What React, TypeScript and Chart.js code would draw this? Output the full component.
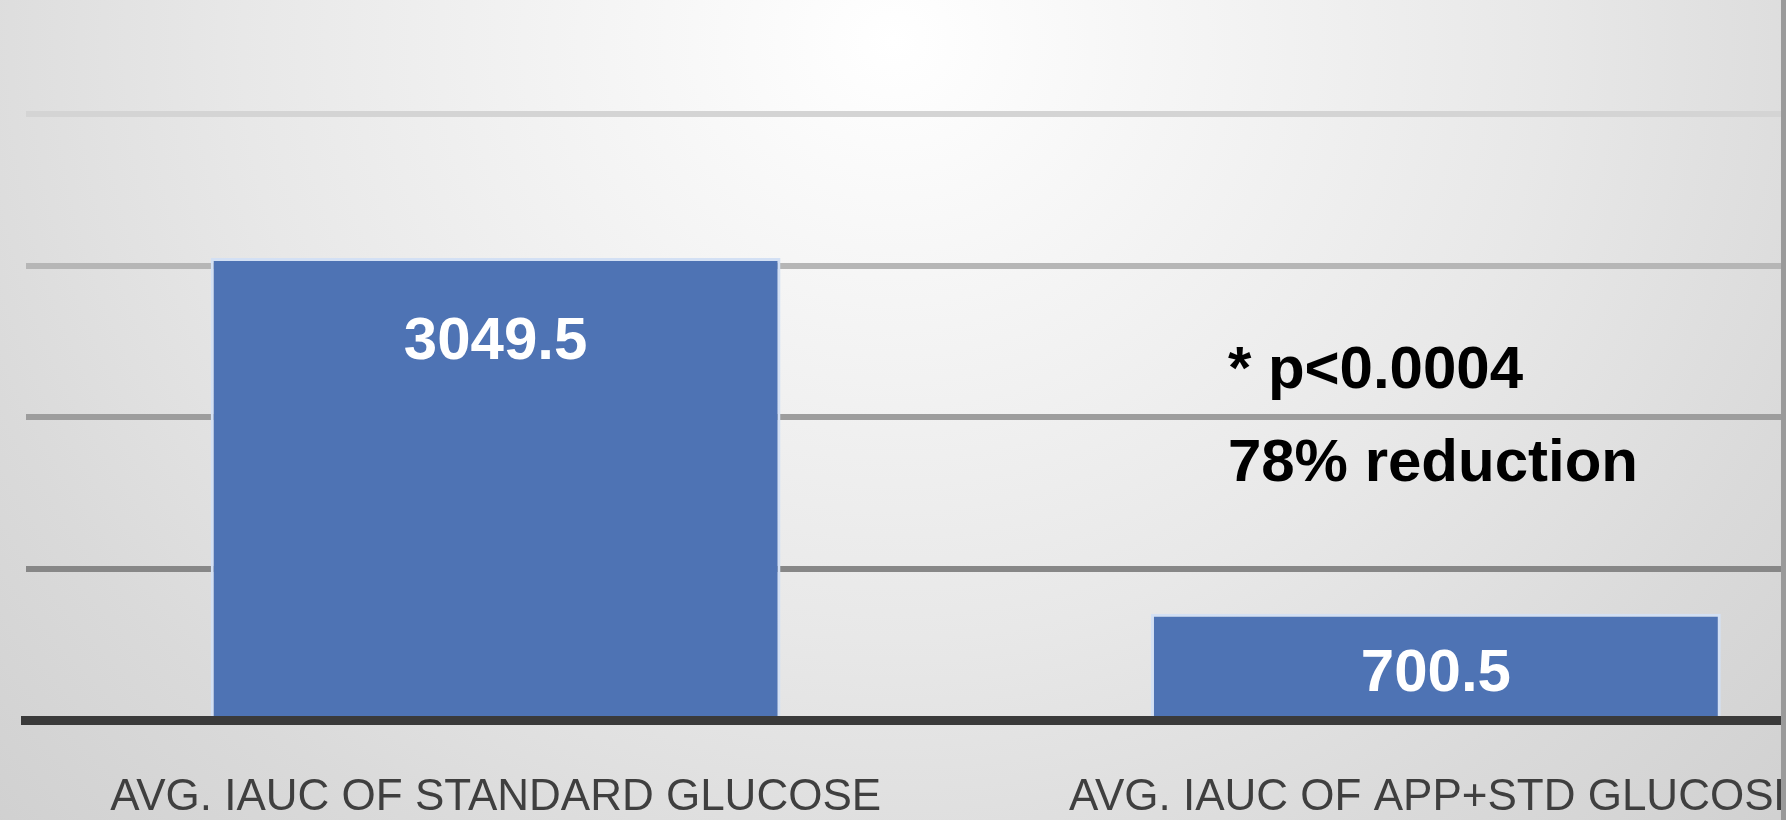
import React, { useEffect, useRef } from "react";
import { Chart, registerables } from "chart.js";

Chart.register(...registerables);

const categories = ["AVG. IAUC OF STANDARD GLUCOSE", "AVG. IAUC OF APP+STD GLUCOSE"];
const values = [3049.5, 700.5];
const valueLabels = ["3049.5", "700.5"];
const yTicks = [0, 1000, 2000, 3000, 4000];
const gridColors = ["rgba(0,0,0,0)", "#878787", "#9d9d9d", "#b6b6b6", "#d4d4d4"];
const annotationLines = ["* p<0.0004", "78% reduction"];
const annotationLevels = [2300, 1690];

const labelPlugin = {
  id: "barLabels",
  afterDatasetsDraw(chart: any) {
    const ctx = chart.ctx;
    const meta = chart.getDatasetMeta(0);
    ctx.save();
    ctx.fillStyle = "#ffffff";
    ctx.font = "bold 60px 'Liberation Sans', Arial, sans-serif";
    ctx.textAlign = "center";
    ctx.textBaseline = "middle";
    meta.data.forEach((bar: any, i: number) => {
      const y = Math.min(bar.y + 84, bar.base - 46);
      ctx.fillText(valueLabels[i], bar.x, y);
    });
    const xs = chart.scales.x;
    const ys = chart.scales.y;
    ctx.fillStyle = "#000000";
    ctx.textAlign = "left";
    ctx.font = "bold 60px 'Liberation Sans', Arial, sans-serif";
    annotationLines.forEach((t, i) => {
      ctx.fillText(t, xs.getPixelForValue(1) - 208, ys.getPixelForValue(annotationLevels[i]));
    });
    ctx.restore();
  },
};

export default function App() {
  const ref = useRef<HTMLCanvasElement>(null);
  useEffect(() => {
    document.documentElement.style.overflow = "hidden";
    const chart = new Chart(ref.current as HTMLCanvasElement, {
      type: "bar",
      data: {
        labels: categories,
        datasets: [
          {
            data: values,
            backgroundColor: "#4e73b4",
            borderColor: "#d3e0f4",
            borderWidth: 3,
            barPercentage: 0.606,
            categoryPercentage: 1,
          },
        ],
      },
      options: {
        responsive: false,
        animation: false,
        devicePixelRatio: 1,
        layout: { padding: { top: 114, left: 25.5, right: 0, bottom: 0 } },
        plugins: { legend: { display: false }, tooltip: { enabled: false } },
        scales: {
          x: {
            grid: { display: false, drawTicks: false },
            border: { display: true, color: "#3a3a3a", width: 9, z: 1 },
            ticks: {
              color: "#3f3f3f",
              font: { family: "'Liberation Sans', Arial, sans-serif", size: 44 },
              padding: 51.6,
              maxRotation: 0,
              autoSkip: false,
            },
          },
          y: {
            min: 0,
            max: 4000,
            afterBuildTicks: (scale: any) => {
              scale.ticks = yTicks.map((v) => ({ value: v }));
            },
            ticks: { display: false },
            border: { display: false },
            grid: {
              drawTicks: false,
              color: (c: any) => gridColors[c.index] || "rgba(0,0,0,0)",
              lineWidth: (c: any) => (c.index === 0 ? 0 : 6),
            },
          },
        },
      },
      plugins: [labelPlugin],
    });
    return () => chart.destroy();
  }, []);

  return (
    <div>
      <div
        style={{
          position: "fixed",
          left: 0,
          top: 0,
          width: 1786,
          height: 820,
          background:
            "radial-gradient(ellipse 70% 140% at 50% 5%, #ffffff 0%, #f4f4f4 25%, #e8e8e8 52%, #dadada 78%, #d0d0d0 100%)",
        }}
      />
      <div style={{ position: "fixed", left: 0, top: 0, width: 1906, height: 876 }}>
        <canvas ref={ref} width={1906} height={876} style={{ width: 1906, height: 876, display: "block" }} />
      </div>
      <div
        style={{ position: "fixed", left: 1781, top: 0, width: 5, height: 820, background: "#9a9a9a" }}
      />
    </div>
  );
}
